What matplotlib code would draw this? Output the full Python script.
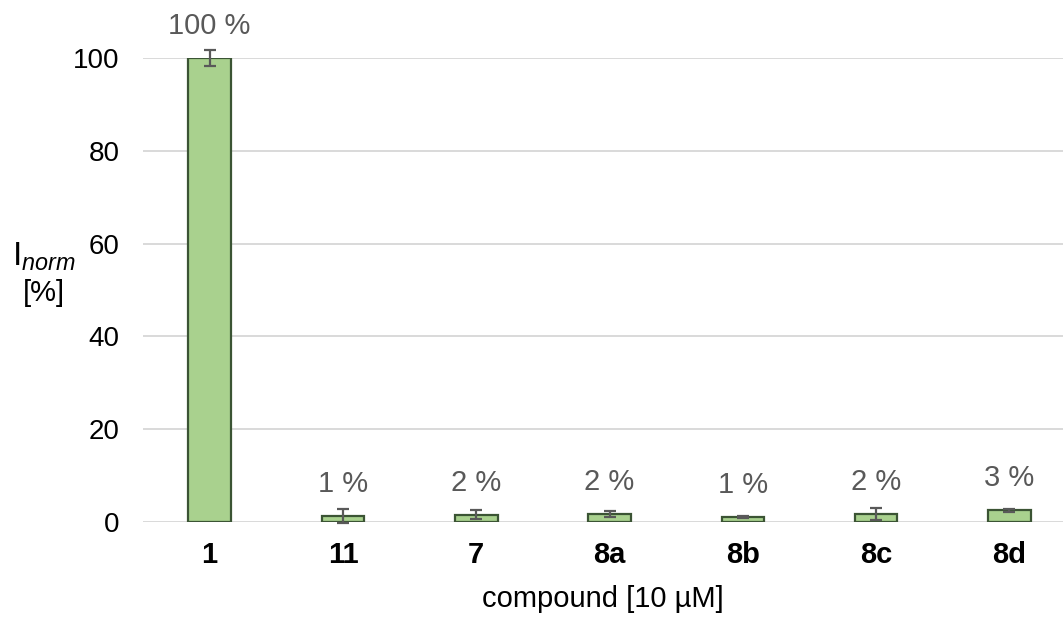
import matplotlib.pyplot as plt

plt.rcParams['font.family'] = ['Liberation Sans', 'DejaVu Sans']
plt.rcParams['mathtext.fontset'] = 'custom'
plt.rcParams['mathtext.rm'] = 'Liberation Sans'
plt.rcParams['mathtext.it'] = 'Liberation Sans:italic'

# data
compounds = ["1", "11", "7", "8a", "8b", "8c", "8d"]
values = [100, 1.3, 1.6, 1.7, 1.1, 1.8, 2.5]
errors = [1.8, 1.5, 0.9, 0.6, 0.2, 1.3, 0.3]
labels = ["100 %", "1 %", "2 %", "2 %", "1 %", "2 %", "3 %"]

fig = plt.figure(figsize=(10.63, 6.17), dpi=100)
ax = fig.add_axes([143 / 1063, 1 - 522 / 617, 920 / 1063, (522 - 58) / 617])

x = list(range(len(compounds)))
ax.bar(x, values, width=0.32, color="#a9d18e", edgecolor="#3b5434", linewidth=1.6, zorder=3)
ax.errorbar(x, values, yerr=errors, fmt="none", ecolor="#595959", elinewidth=1.6,
            capsize=4, capthick=1.6, zorder=4, clip_on=False)

# value labels above bars
for i, v in enumerate(values):
    ax.annotate(labels[i], (i, v), xytext=(0, 23), textcoords="offset points",
                ha="center", va="center", fontsize=21, color="#595959", annotation_clip=False)

ax.set_xlim(-0.5, 920 / 133.3 - 0.5)
ax.set_ylim(0, 100)
ax.set_yticks([0, 20, 40, 60, 80, 100])
ax.set_xticks(x)
ax.set_xticklabels(compounds, fontweight="bold")
ax.tick_params(axis="y", labelsize=20, length=0, pad=17, labelcolor="#000000")
ax.tick_params(axis="x", labelsize=21, length=0, pad=14, labelcolor="#000000")
ax.grid(axis="y", color="#d9d9d9", linewidth=1.4, zorder=0)
for s in ax.spines.values():
    s.set_visible(False)
ax.set_axisbelow(True)

ax.set_xlabel("compound [10 µM]", fontsize=21, color="#000000", labelpad=11)

fig.text(44 / 1063, 1 - 257 / 617, r"$\mathregular{I}_{\mathit{norm}}$", fontsize=24,
         ha="center", va="center")
fig.text(44 / 1063, 1 - 293 / 617, "[%]", fontsize=21, ha="center", va="center")

fig.savefig("out.png", dpi=100)
